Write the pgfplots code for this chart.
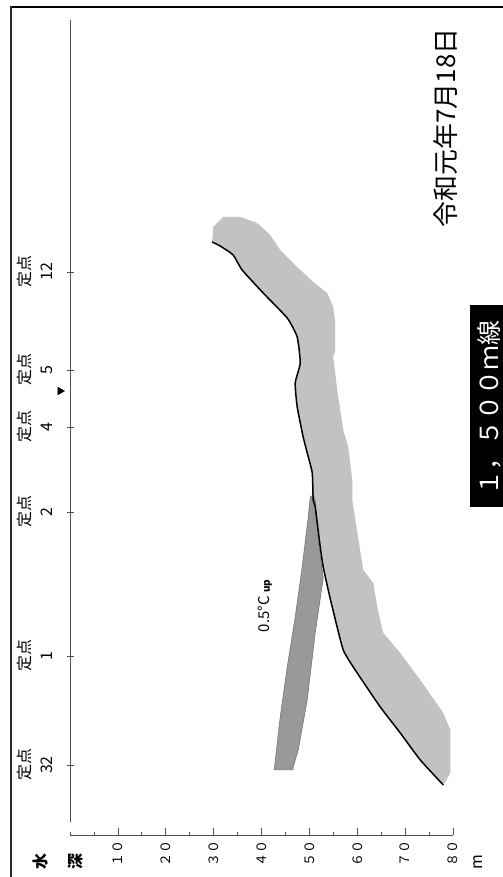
\documentclass[border=0pt]{standalone}
\usepackage{pgfplots}
\pgfplotsset{compat=1.18}
\usepackage{fontspec}
\setmainfont{Noto Sans CJK JP}
\definecolor{lightband}{HTML}{C2C2C2}
\definecolor{darkband}{HTML}{999999}
\definecolor{darkedge}{HTML}{6A6A6A}
\definecolor{axisgray}{HTML}{505050}
\begin{document}
\begin{tikzpicture}
\begin{axis}[
  scale only axis, width=383bp, height=815bp,
  xmin=0, xmax=80, ymin=0, ymax=815,
  clip=false,
  axis x line*=bottom, axis y line*=left,
  y axis line style={draw=none},
  x axis line style={axisgray, line width=0.9pt},
  tick style={axisgray, line width=0.8pt},
  xtick={10,20,...,80},
  minor xtick={0,5,15,25,35,45,55,65,75},
  xticklabels={１０,２０,３０,４０,５０,６０,７０,８０},
  xtick align=inside,
  major tick length=7bp, minor tick length=3.5bp,
  xticklabel style={rotate=90, anchor=east, font=\fontsize{13}{15}\selectfont},
  xticklabel shift=2bp,
  ytick={70,179,323,408,465,563},
  yticklabels={{定点\\32},{定点\\1},{定点\\2},{定点\\4},{定点\\5},{定点\\12}},
  ytick align=center,
  yticklabel style={rotate=90, anchor=south, align=center, font=\fontsize{16}{22}\selectfont, inner sep=1bp},
  yticklabel shift=13bp,
]
% light band (area above the line)
\addplot[fill=lightband, draw=none] coordinates {
(29.68,593) (31.35,589) (34.07,580) (35.95,565) (40.34,542) (45.36,517) (47.45,498) (48.08,472) (47.03,452) (47.45,428) (48.70,398) (49.54,382) (50.59,362) (50.79,335) (51.21,328) (52.26,288) (52.88,268) (53.93,245) (54.77,228) (57.07,185) (59.99,162) (64.80,128) (68.98,102) (73.16,75) (77.97,50)
(78.39,53) (79.43,62) (79.43,105) (77.97,122) (73.16,155) (68.98,182) (65.43,202) (64.38,223) (63.34,252) (61.25,265) (59.99,303) (58.95,335) (58.95,355) (58.11,388) (57.07,405) (55.81,445) (54.97,478) (55.39,485) (55.39,512) (54.97,528) (53.72,542) (50.79,553) (47.45,568) (43.90,585) (41.81,600) (39.09,612) (35.54,618) (31.98,618) (29.89,608) (29.68,593)
};
% dark band (0.5 C up)
\addplot[fill=darkband, draw=darkedge, line width=0.5pt] coordinates {
(42.64,65) (43.90,118) (45.36,168) (47.03,218) (48.49,268) (49.75,318) (50.17,338) (50.79,340) (51.21,335) (51.84,295) (52.88,257) (51.21,202) (49.54,135) (47.66,85) (46.61,68) (46.61,65) (42.64,65)
};
% line
\addplot[black, line width=1.5pt, smooth, tension=0.3] coordinates {
(29.68,593) (31.35,589) (34.07,580) (35.95,565) (40.34,542) (45.36,517) (47.45,498) (48.08,472) (47.03,452) (47.45,428) (48.70,398) (49.54,382) (50.59,362) (50.79,335) (51.21,328) (52.26,288) (52.88,268) (53.93,245) (54.77,228) (57.07,185) (59.99,162) (64.80,128) (68.98,102) (73.16,75) (77.97,50)
};
% station marker
\addplot[only marks, mark=triangle*, mark size=4.5bp, mark options={rotate=-90, fill=black, draw=black}] coordinates {(-2.09,444)};
% axis line for stations
\draw[axisgray, line width=0.9pt] (axis cs:0,13) -- (axis cs:0,815);
% frame
\draw[black, line width=2.5bp] (axis cs:-12.33,828) -- (axis cs:96,828);
\draw[black!85, line width=1.2bp] (axis cs:-12.33,829) -- (axis cs:-12.33,-60);
% labels
\node[rotate=90, font=\fontsize{16}{18}\selectfont\bfseries] at (axis cs:-6.27,-27) {水};
\node[rotate=90, font=\fontsize{16}{18}\selectfont\bfseries] at (axis cs:1.05,-27) {深};
\node[rotate=90, font=\fontsize{16}{18}\selectfont] at (axis cs:85.3,-27) {m};
\node[rotate=90, font=\fontsize{15}{17}\selectfont] at (axis cs:40.76,229) {0.5°C {\fontsize{10}{11}\selectfont\bfseries up}};
\node[rotate=90, font=\fontsize{26}{28}\selectfont] at (axis cs:78.39,707) {令和元年7月18日};
\fill[black] (axis cs:83.61,328) rectangle (axis cs:98,530);
\node[rotate=90, text=white, font=\fontsize{25}{27}\selectfont] at (axis cs:87.6,427) {１，５００ｍ線};
\coordinate (pBL) at (axis cs:-14.63,-42);
\coordinate (pTR) at (axis cs:90.30,835);
\end{axis}
\pgfresetboundingbox
\path[use as bounding box] (pBL) rectangle (pTR);
\end{tikzpicture}
\end{document}
